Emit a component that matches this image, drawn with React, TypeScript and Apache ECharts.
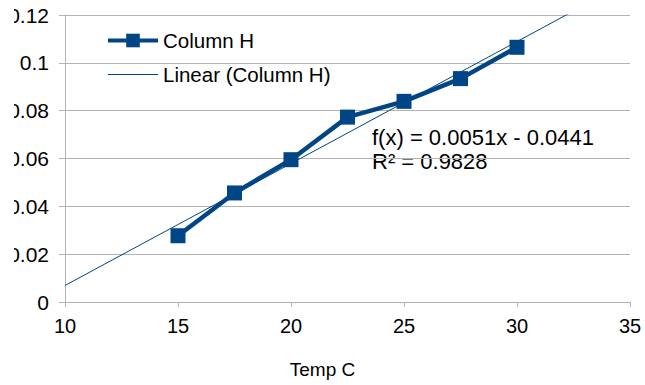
import React, { useEffect, useRef } from "react";
import * as echarts from "echarts";

const tempC = [15, 17.5, 20, 22.5, 25, 27.5, 30];
const columnH = [0.0277, 0.0456, 0.0595, 0.0773, 0.0839, 0.0934, 0.1065];
const trendSlope = 0.0051;
const trendIntercept = -0.0441;
const trendXRange = [10, 35];
const equationLines = ["f(x) = 0.0051x - 0.0441", "R² = 0.9828"];
const seriesName = "Column H";
const trendName = "Linear (Column H)";

const FONT = "Liberation Sans, Arial, sans-serif";
const BLUE = "#004586";
const GRAY = "#b3b3b3";

export default function App() {
  const ref = useRef<HTMLDivElement>(null);
  useEffect(() => {
    document.body.style.margin = "0";
    document.body.style.overflow = "hidden";
    if (!ref.current) return;
    const chart = echarts.init(ref.current, undefined, { renderer: "svg" });
    const dataPts = tempC.map((x, i) => [x, columnH[i]]);
    const trendPts = trendXRange.map((x) => [x, trendSlope * x + trendIntercept]);
    chart.setOption({
      animation: false,
      textStyle: { fontFamily: FONT },
      grid: { left: 65, right: 15, top: 15, bottom: 83 },
      legend: {
        orient: "vertical",
        left: 101,
        top: 25,
        itemWidth: 50,
        itemHeight: 17,
        itemGap: 13,
        textStyle: { fontSize: 20.5, color: "#000", fontFamily: FONT },
        data: [
          { name: seriesName, lineStyle: { width: 4 } },
          { name: trendName, itemStyle: { opacity: 0 }, lineStyle: { width: 1 } },
        ],
      },
      xAxis: {
        type: "value",
        min: 10,
        max: 35,
        interval: 5,
        name: "Temp C",
        nameLocation: "middle",
        nameGap: 58,
        nameTextStyle: { fontSize: 19, color: "#000", fontFamily: FONT, padding: [0, 50, 0, 0] },
        axisLine: { show: true, lineStyle: { color: GRAY } },
        axisTick: { show: true, length: 5, lineStyle: { color: GRAY } },
        axisLabel: { fontSize: 20, color: "#000", margin: 14, fontFamily: FONT },
        splitLine: { show: false },
      },
      yAxis: {
        type: "value",
        min: 0,
        max: 0.12,
        interval: 0.02,
        axisLine: { show: true, lineStyle: { color: GRAY } },
        axisTick: { show: true, length: 6, lineStyle: { color: GRAY } },
        axisLabel: { fontSize: 21, color: "#000", margin: 16, fontFamily: FONT },
        splitLine: { show: true, lineStyle: { color: GRAY } },
      },
      series: [
        {
          name: trendName,
          type: "line",
          data: trendPts,
          symbol: "none",
          clip: true,
          lineStyle: { color: BLUE, width: 1 },
          itemStyle: { color: BLUE },
          z: 3,
        },
        {
          name: seriesName,
          type: "line",
          data: dataPts,
          symbol: "rect",
          symbolSize: 15,
          lineStyle: { color: BLUE, width: 4.5 },
          itemStyle: { color: BLUE },
          z: 2,
        },
      ],
      graphic: [
        {
          type: "text",
          left: 372,
          top: 126,
          style: { text: equationLines[0], fontSize: 22, fill: "#000", fontFamily: FONT },
        },
        {
          type: "text",
          left: 372,
          top: 150,
          style: { text: equationLines[1], fontSize: 22, fill: "#000", fontFamily: FONT },
        },
        {
          type: "rect",
          left: 0,
          top: 0,
          shape: { width: 14, height: 320 },
          style: { fill: "#fff" },
          z: 100,
        },
      ],
    });
    return () => chart.dispose();
  }, []);
  return <div ref={ref} style={{ width: 645, height: 385 }} />;
}
